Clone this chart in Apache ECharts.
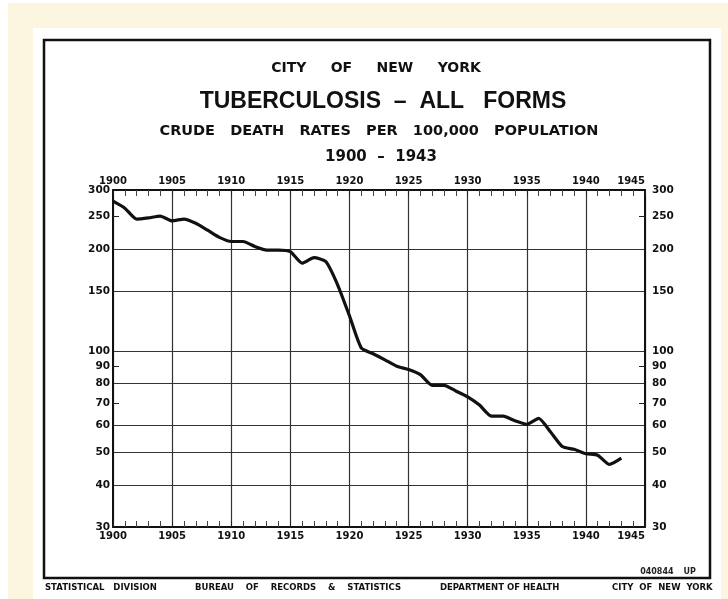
<!DOCTYPE html>
<html>
<head>
<meta charset="utf-8">
<script src="https://cdn.jsdelivr.net/npm/echarts@6/dist/echarts.min.js"></script>
<style>
html,body{margin:0;padding:0;background:#ffffff;}
#chart{width:728px;height:599px;}
</style>
</head>
<body>
<div id="chart"></div>
<script>
// ---- Data ----
const years = [1900,1901,1902,1903,1904,1905,1906,1907,1908,1909,
               1910,1911,1912,1913,1914,1915,1916,1917,1918,1919,
               1920,1921,1922,1923,1924,1925,1926,1927,1928,1929,
               1930,1931,1932,1933,1934,1935,1936,1937,1938,1939,
               1940,1941,1942,1943];
const deathRates = [278,265,246,248,251,243,246,239,228,217,
                    211,211,204,199,199,197,182,189,184,157,
                    127,102,98,94,90,88,85,79,79,76,
                    73,69,64,64,62,60.5,63,57.5,52,51,
                    49.5,49,46,48];
const yLabelValues = [30,40,50,60,70,80,90,100,150,200,250,300];
const yGridValues = [40,50,60,80,100,150,200];
const yShortTickValues = [70,90,250];
const titleLines = ['CITY     OF     NEW     YORK', 'TUBERCULOSIS  \u2013  ALL   FORMS', 'CRUDE   DEATH   RATES   PER   100,000   POPULATION', '1900  \u2013  1943'];
const footerTexts = ['STATISTICAL   DIVISION', 'BUREAU    OF    RECORDS    &    STATISTICS', 'DEPARTMENT OF HEALTH', 'CITY  OF  NEW  YORK'];

const FONT = 'DejaVu Sans';
const chart = echarts.init(document.getElementById('chart'), null, {renderer: 'canvas'});

const seriesData = years.map((y, i) => [y, deathRates[i]]);

const xBase = {
  type: 'value', min: 1900, max: 1945, interval: 5,
  axisLine: {show: true, onZero: false, lineStyle: {color: '#111', width: 2}},
  axisTick: {show: true, inside: true, length: 6, lineStyle: {color: '#222', width: 1}},
  minorTick: {show: true, splitNumber: 5, length: 6, lineStyle: {color: '#444', width: 1}},
  axisLabel: {show: true, formatter: v => String(v), color: '#111', fontFamily: FONT, fontWeight: 'bold', fontSize: 10, margin: 4, alignMaxLabel: 'right'}
};

const yLabelFmt = v => String(Math.round(v));

const option = {
  backgroundColor: '#ffffff',
  animation: false,
  grid: {left: 113, right: 83, top: 190, bottom: 72, containLabel: false, show: false},
  xAxis: [
    Object.assign({}, xBase, {position: 'bottom', splitLine: {show: true, lineStyle: {color: '#333', width: 1.2}}}),
    Object.assign({}, xBase, {position: 'top', splitLine: {show: false}})
  ],
  yAxis: [
    {
      type: 'log', logBase: 10, min: 30, max: 300, position: 'left',
      axisLine: {show: true, onZero: false, lineStyle: {color: '#111', width: 2}},
      axisTick: {show: false, customValues: yGridValues},
      axisLabel: {show: true, customValues: yLabelValues, formatter: yLabelFmt, color: '#111', fontFamily: FONT, fontWeight: 'bold', fontSize: 10.5, margin: 3},
      splitLine: {show: true, lineStyle: {color: '#333', width: 1.2}}
    },
    {
      type: 'log', logBase: 10, min: 30, max: 300, position: 'left',
      axisLine: {show: false},
      axisTick: {show: true, inside: true, length: 6, customValues: yShortTickValues, lineStyle: {color: '#222', width: 1}},
      axisLabel: {show: false},
      splitLine: {show: false}
    },
    {
      type: 'log', logBase: 10, min: 30, max: 300, position: 'right',
      axisLine: {show: true, onZero: false, lineStyle: {color: '#111', width: 2}},
      axisTick: {show: true, inside: true, length: 6, customValues: yShortTickValues, lineStyle: {color: '#222', width: 1}},
      axisLabel: {show: true, customValues: yLabelValues, formatter: yLabelFmt, color: '#111', fontFamily: FONT, fontWeight: 'bold', fontSize: 10.5, margin: 7},
      splitLine: {show: false}
    }
  ],
  series: [{
    type: 'line', xAxisIndex: 0, yAxisIndex: 0,
    data: seriesData, showSymbol: false, smooth: 0.2,
    lineStyle: {color: '#111', width: 3.2}, z: 5
  }],
  graphic: [
    {type: 'rect', z: -20, shape: {x: 8, y: 3, width: 720, height: 596}, style: {fill: '#fcf5e0'}, silent: true},
    {type: 'rect', z: -19, shape: {x: 33, y: 28, width: 688, height: 571}, style: {fill: '#ffffff'}, silent: true},
    {type: 'rect', z: -18, shape: {x: 44, y: 40, width: 666, height: 538}, style: {fill: '#ffffff', stroke: '#111', lineWidth: 2.5}, silent: true},
    {type: 'text', x: 376, y: 68, style: {text: titleLines[0], font: 'bold 14px "DejaVu Sans"', fill: '#111', textAlign: 'center', textVerticalAlign: 'middle'}},
    {type: 'text', x: 383, y: 102, style: {text: titleLines[1], font: 'bold 23px "Liberation Sans"', fill: '#111', textAlign: 'center', textVerticalAlign: 'middle'}},
    {type: 'text', x: 379, y: 131, style: {text: titleLines[2], font: 'bold 14.5px "DejaVu Sans"', fill: '#111', textAlign: 'center', textVerticalAlign: 'middle'}},
    {type: 'text', x: 381, y: 157, style: {text: titleLines[3], font: 'bold 15px "DejaVu Sans"', fill: '#111', textAlign: 'center', textVerticalAlign: 'middle'}},
    {type: 'text', x: 668, y: 572, style: {text: '040844  \u2009 UP', font: 'bold 8px "DejaVu Sans"', fill: '#222', textAlign: 'center', textVerticalAlign: 'middle'}},
    {type: 'text', x: 45, y: 588, style: {text: footerTexts[0], font: 'bold 8.5px "DejaVu Sans"', fill: '#111', textVerticalAlign: 'middle'}},
    {type: 'text', x: 195, y: 588, style: {text: footerTexts[1], font: 'bold 8.5px "DejaVu Sans"', fill: '#111', textVerticalAlign: 'middle'}},
    {type: 'text', x: 440, y: 588, style: {text: footerTexts[2], font: 'bold 8.5px "DejaVu Sans"', fill: '#111', textVerticalAlign: 'middle'}},
    {type: 'text', x: 612, y: 588, style: {text: footerTexts[3], font: 'bold 8.5px "DejaVu Sans"', fill: '#111', textVerticalAlign: 'middle'}}
  ]
};
chart.setOption(option);
</script>
</body>
</html>
